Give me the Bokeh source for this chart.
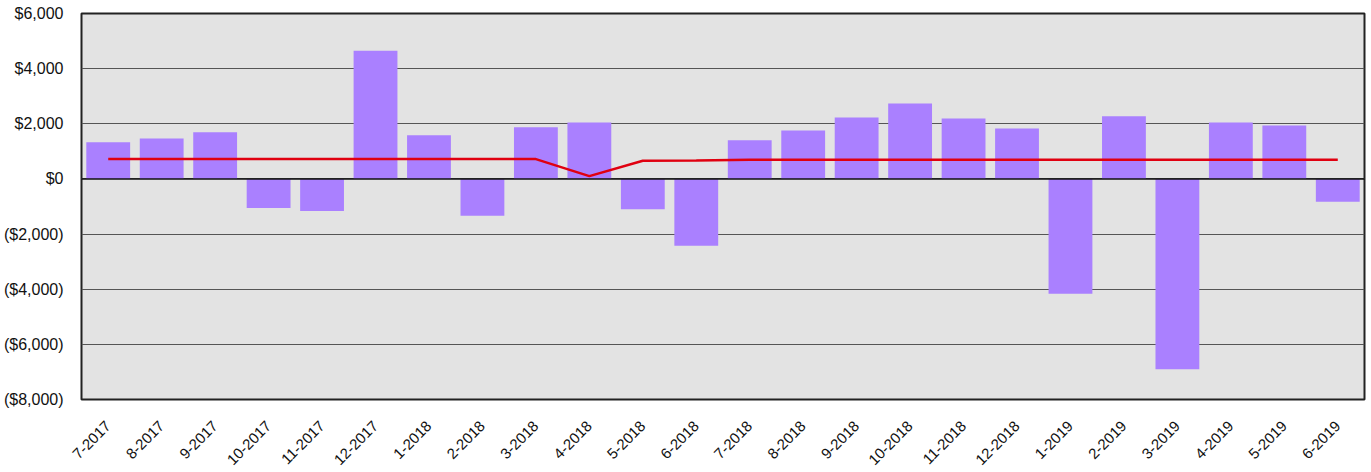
import math
from bokeh.plotting import figure
from bokeh.models import Range1d, FactorRange, Span, CustomJSTickFormatter, FixedTicker
from bokeh.embed import file_html
from bokeh.resources import INLINE

months = ["7-2017", "8-2017", "9-2017", "10-2017", "11-2017", "12-2017",
          "1-2018", "2-2018", "3-2018", "4-2018", "5-2018", "6-2018",
          "7-2018", "8-2018", "9-2018", "10-2018", "11-2018", "12-2018",
          "1-2019", "2-2019", "3-2019", "4-2019", "5-2019", "6-2019"]
net_values = [1330, 1470, 1690, -1050, -1160, 4650,
              1580, -1340, 1870, 2050, -1100, -2420,
              1400, 1760, 2230, 2740, 2190, 1830,
              -4160, 2270, -6900, 2050, 1940, -830]
avg_values = [720, 720, 720, 720, 720, 720,
              720, 720, 720, 100, 660, 670,
              700, 700, 700, 700, 700, 700,
              700, 700, 700, 700, 700, 700]
y_ticks = [-8000, -6000, -4000, -2000, 0, 2000, 4000, 6000]

p = figure(x_range=FactorRange(*months, range_padding=0),
           y_range=Range1d(-8000, 6000),
           width=1366, height=472, output_backend="svg", toolbar_location=None,
           min_border_left=72, min_border_right=2, min_border_top=13, min_border_bottom=72)

p.border_fill_color = "white"

p.vbar(x=months, top=net_values, bottom=0, width=0.82, color="#aa80ff", line_color=None)
p.line(x=months, y=avg_values, line_color="#e00010", line_width=2.5)

p.add_layout(Span(location=0, dimension="width", line_color="#111111", line_width=1.5))

p.yaxis.ticker = FixedTicker(ticks=y_ticks)
p.yaxis.formatter = CustomJSTickFormatter(code="""
const s = Math.abs(tick).toLocaleString('en-US');
return tick < 0 ? '($' + s + ')' : '$' + s;
""")

for ax in (p.xaxis, p.yaxis):
    ax.axis_line_color = None
    ax.major_tick_line_color = None
    ax.minor_tick_line_color = None
    ax.major_label_text_font = "Liberation Sans"
    ax.major_label_text_color = "#111111"

p.yaxis.major_label_text_font_size = "16px"
p.yaxis.major_label_standoff = 12
p.xaxis.major_label_text_font_size = "15px"
p.xaxis.major_label_orientation = math.pi / 4
p.xaxis.major_label_standoff = 18

p.xgrid.grid_line_color = None
p.ygrid.grid_line_color = "#555555"
p.ygrid.grid_line_width = 1

p.background_fill_color = "#e3e3e3"
p.outline_line_color = "#222222"
p.outline_line_width = 2

open("out.html", "w").write(file_html(p, INLINE))
